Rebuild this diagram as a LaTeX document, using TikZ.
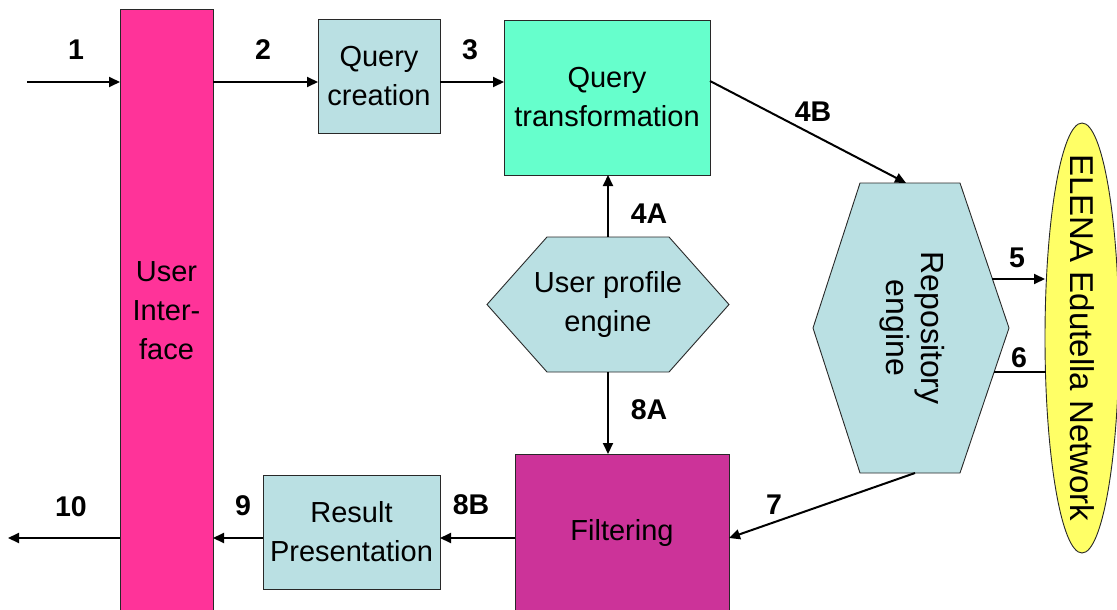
\documentclass[tikz,border=0pt]{standalone}
\usepackage{fontspec}
\usepackage{graphicx}
\setmainfont{Liberation Sans}
\usetikzlibrary{arrows.meta,backgrounds,calc,shapes.geometric}

\definecolor{uipink}{RGB}{255,51,153}
\definecolor{filtmag}{RGB}{204,51,153}
\definecolor{qtgreen}{RGB}{102,255,204}
\definecolor{paleblue}{RGB}{186,224,227}
\definecolor{netyellow}{RGB}{255,255,102}
\definecolor{edge}{RGB}{40,40,40}

\newcommand\nodetextfont{\fontsize{29}{39}\selectfont}
\newcommand\sidetextfont{\fontsize{32}{35}\selectfont}
\newcommand\nettextfont{\fontsize{33}{36}\selectfont}
\newcommand\flowlabelfont{\fontsize{28.5}{30}\selectfont\bfseries}

\begin{document}
\begin{tikzpicture}[x=1pt,y=-1pt,
  box/.style={draw=edge, line width=0.9pt, inner sep=0pt, outer sep=0pt,
              align=center, font=\nodetextfont},
  hexholder/.style={inner sep=0pt, outer sep=0pt, align=center},
  hexs/.style={draw=edge, line width=0.9pt, fill=paleblue},
  flowlab/.style={font=\flowlabelfont, inner sep=0pt},
  arr/.style={line width=2pt, -{Triangle[length=11pt,width=10pt]}},
  plainline/.style={line width=2pt}]

\useasboundingbox (0,0) rectangle (1117,610);

% main blocks
\node[box, fill=uipink, minimum width=93, minimum height=604] (ui) at (166.5,311) {User\\Inter-\\face};
\node[box, fill=paleblue, minimum width=122, minimum height=114] (qc) at (379,76) {Query\\creation};
\node[box, fill=qtgreen, minimum width=206, minimum height=155] (qt) at (607,97.5) {Query\\transformation};
\node[box, fill=filtmag, minimum width=214, minimum height=158] (fi) at (622,533) {Filtering};
\node[box, fill=paleblue, minimum width=177, minimum height=114] (rp) at (351.5,532) {Result\\Presentation};

% hexagonal engines (outline drawn behind the text)
\node[hexholder, font=\nodetextfont, minimum width=242, minimum height=135] (up) at (608,304.5) {User profile\\engine};
\node[hexholder, font=\sidetextfont, minimum width=196, minimum height=290] (re) at (911,328)
  {\rotatebox{-90}{\begin{tabular}{@{}c@{}}Repository\\engine\end{tabular}}};
\begin{scope}[on background layer]
  \draw[hexs] (up.west) -- ([xshift=60]up.north west) -- ([xshift=-60]up.north east)
    -- (up.east) -- ([xshift=-60]up.south east) -- ([xshift=60]up.south west) -- cycle;
  \draw[hexs] (re.west) -- ([xshift=47]re.north west) -- ([xshift=-49]re.north east)
    -- (re.east) -- ([xshift=-49]re.south east) -- ([xshift=47]re.south west) -- cycle;
\end{scope}

% network ellipse
\node[ellipse, draw=edge, line width=0.9pt, fill=netyellow, inner sep=0pt, outer sep=0pt,
      minimum width=74, minimum height=430] (el) at (1082,338) {};
\node[font=\nettextfont, inner sep=0pt] (elt) at (el.center) {\rotatebox{-90}{ELENA Edutella Network}};

% reference points for connectors
\coordinate (in1) at (27,82);
\coordinate (row) at (0,538);
\coordinate (out10) at (8,538);
\coordinate (p5) at (992,279);
\coordinate (p6) at (994,372);

% connectors
\draw[arr] (in1) -- (in1 -| ui.west);
\draw[arr] (in1 -| ui.east) -- (in1 -| qc.west);
\draw[arr] (in1 -| qc.east) -- (in1 -| qt.west);
\draw[arr] (qt.east |- 0,81) -- ([xshift=-5]re.north);
\draw[arr] (up.north) -- (up.north |- qt.south);
\draw[arr] (up.south) -- (up.south |- fi.north);
\draw[arr] (p5) -- (p5 -| el.west);
\draw[plainline] (p6) -- ([xshift=1]p6 -| el.west);
\draw[arr] ([xshift=4]re.south) -- (row -| fi.east);
\draw[arr] (row -| fi.west) -- (row -| rp.east);
\draw[arr] (row -| rp.west) -- (row -| ui.east);
\draw[arr] (row -| ui.west) -- (out10);

% flow labels
\node[flowlab] (l1) at (76,50) {1};
\node[flowlab] (l2) at (263,50) {2};
\node[flowlab] (l3) at (470,50) {3};
\node[flowlab] (l4b) at (813,112) {4B};
\node[flowlab] (l4a) at (649,214) {4A};
\node[flowlab] (l5) at (1017,258) {5};
\node[flowlab] (l6) at (1019,358) {6};
\node[flowlab] (l8a) at (649,410) {8A};
\node[flowlab] (l7) at (774,505) {7};
\node[flowlab] (l8b) at (471,505) {8B};
\node[flowlab] (l9) at (243,506) {9};
\node[flowlab] (l10) at (71,507) {10};
\end{tikzpicture}
\end{document}
